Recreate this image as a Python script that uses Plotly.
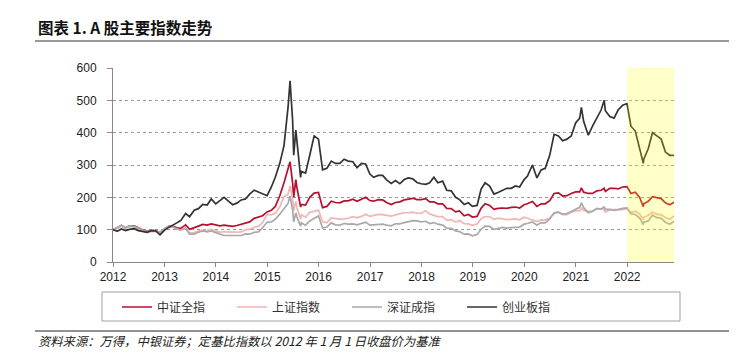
import pandas as pd
import plotly.graph_objects as go

# ---------------- data ----------------
dates = (
    ["2012-01-01"]
    + ["2012-01-31", "2012-02-29", "2012-03-30", "2012-04-27", "2012-05-31", "2012-06-29",
       "2012-07-31", "2012-08-31", "2012-09-28", "2012-10-31", "2012-11-30", "2012-12-31"]
    + ["2013-01-31", "2013-02-28", "2013-03-29", "2013-04-26", "2013-05-31", "2013-06-28",
       "2013-07-31", "2013-08-30", "2013-09-30", "2013-10-31", "2013-11-29", "2013-12-31"]
    + ["2014-01-30", "2014-02-28", "2014-03-31", "2014-04-30", "2014-05-30", "2014-06-30",
       "2014-07-31", "2014-08-29", "2014-09-30", "2014-10-31", "2014-11-28", "2014-12-31"]
    + ["2015-01-30", "2015-02-27", "2015-03-31", "2015-04-30", "2015-05-29", "2015-06-12",
       "2015-06-30", "2015-07-08", "2015-07-23", "2015-07-31", "2015-08-26", "2015-08-31",
       "2015-09-30", "2015-10-30", "2015-11-30", "2015-12-31"]
    + ["2016-01-29", "2016-02-29", "2016-03-31", "2016-04-29", "2016-05-31", "2016-06-30",
       "2016-07-29", "2016-08-31", "2016-09-30", "2016-10-31", "2016-11-30", "2016-12-30"]
    + ["2017-01-26", "2017-02-28", "2017-03-31", "2017-04-28", "2017-05-31", "2017-06-30",
       "2017-07-31", "2017-08-31", "2017-09-29", "2017-10-31", "2017-11-30", "2017-12-29"]
    + ["2018-01-31", "2018-02-28", "2018-03-30", "2018-04-27", "2018-05-31", "2018-06-29",
       "2018-07-31", "2018-08-31", "2018-09-28", "2018-10-31", "2018-11-30", "2018-12-28"]
    + ["2019-01-31", "2019-02-28", "2019-03-29", "2019-04-30", "2019-05-31", "2019-06-28",
       "2019-07-31", "2019-08-30", "2019-09-30", "2019-10-31", "2019-11-29", "2019-12-31"]
    + ["2020-01-23", "2020-02-28", "2020-03-31", "2020-04-30", "2020-05-29", "2020-06-30",
       "2020-07-31", "2020-08-31", "2020-09-30", "2020-10-30", "2020-11-30", "2020-12-31"]
    + ["2021-01-29", "2021-02-10", "2021-02-26", "2021-03-31", "2021-04-30", "2021-05-31",
       "2021-06-30", "2021-07-22", "2021-07-30", "2021-08-31", "2021-09-30", "2021-10-29",
       "2021-11-30", "2021-12-31"]
    + ["2022-01-28", "2022-02-28", "2022-03-31", "2022-04-26", "2022-04-29", "2022-05-31",
       "2022-06-30", "2022-07-29", "2022-08-31", "2022-09-30", "2022-10-31", "2022-11-30"]
)

csi_all = (  # 中证全指
    [100]
    + [105, 113, 105, 112, 112, 106, 99, 95, 98, 97, 91, 102]
    + [110, 111, 106, 104, 115, 101, 105, 111, 116, 114, 118, 114]
    + [112, 114, 112, 110, 113, 116, 121, 124, 135, 139, 143, 155]
    + [160, 172, 205, 245, 285, 310, 245, 200, 255, 230, 170, 178, 176, 200, 213, 215]
    + [168, 172, 188, 184, 183, 189, 189, 194, 188, 194, 200, 190]
    + [188, 193, 192, 184, 178, 184, 186, 192, 195, 197, 193, 193]
    + [196, 186, 186, 180, 180, 166, 165, 155, 158, 143, 147, 139]
    + [141, 166, 180, 175, 163, 166, 167, 166, 169, 170, 167, 177]
    + [180, 187, 172, 180, 180, 190, 212, 214, 204, 205, 212, 217]
    + [217, 229, 216, 212, 212, 220, 222, 228, 218, 228, 228, 226, 232, 233]
    + [212, 216, 200, 171, 180, 188, 202, 200, 196, 183, 177, 185]
)

sse = (  # 上证指数
    [100]
    + [104.2, 110.4, 102.9, 109.0, 107.9, 101.2, 95.6, 93.1, 94.8, 94.1, 90.0, 103.2]
    + [108.4, 107.6, 101.7, 99.0, 104.6, 90.0, 90.7, 95.4, 98.9, 97.3, 100.9, 96.2]
    + [92.4, 93.5, 92.4, 92.1, 92.7, 93.1, 100.1, 100.8, 107.5, 110.0, 122.0, 147.1]
    + [145.9, 150.5, 170.4, 202.0, 209.7, 235.0, 194.5, 159.4, 187.5, 166.6, 133.0, 145.8,
       138.8, 153.8, 156.7, 160.9]
    + [124.5, 122.2, 136.6, 133.6, 132.6, 133.2, 135.4, 140.3, 136.6, 141.0, 147.8, 141.1]
    + [143.6, 147.4, 146.5, 143.4, 141.7, 145.2, 148.8, 152.8, 152.3, 154.3, 150.8, 150.4]
    + [158.3, 148.2, 144.1, 140.1, 140.7, 129.4, 130.8, 123.9, 128.3, 118.3, 117.7, 113.4]
    + [117.5, 133.7, 140.5, 139.9, 131.8, 135.4, 133.4, 131.2, 132.1, 133.2, 130.6, 138.7]
    + [135.4, 130.9, 125.0, 130.0, 129.7, 135.7, 150.5, 154.4, 146.3, 146.6, 154.2, 157.9]
    + [158.4, 166.0, 159.5, 156.5, 156.7, 164.4, 163.3, 162.5, 154.5, 161.1, 162.2, 161.3,
       162.0, 165.5]
    + [152.8, 157.4, 147.9, 131.2, 138.5, 144.9, 154.5, 147.9, 145.6, 137.5, 131.5, 143.3]
)

szse = (  # 深证成指
    [100]
    + [106, 114, 106, 112, 110, 104, 98, 93, 99, 96, 92, 102]
    + [111, 109, 102, 99, 104, 86, 86, 92, 96, 93, 96, 91]
    + [86, 82, 82, 82, 82, 82, 87, 86, 92, 93, 106, 123]
    + [124, 132, 148, 166, 181, 204, 161, 124, 152, 139, 111, 121, 114, 127, 135, 142]
    + [105, 108, 121, 115, 114, 119, 117, 118, 115, 119, 123, 114]
    + [115, 115, 117, 114, 112, 118, 118, 122, 124, 128, 127, 124]
    + [126, 119, 122, 117, 114, 105, 104, 96, 94, 86, 87, 81]
    + [85, 101, 111, 110, 101, 104, 107, 105, 107, 107, 108, 117]
    + [119, 124, 114, 122, 121, 133, 152, 154, 148, 150, 156, 162]
    + [169, 183, 168, 152, 157, 166, 164, 170, 163, 163, 160, 162, 166, 167]
    + [149, 147, 136, 116, 123, 127, 145, 138, 135, 123, 117, 126]
)

chinext = (  # 创业板指
    [100]
    + [95, 102, 97, 101, 103, 97, 95, 92, 97, 96, 84, 98]
    + [107, 115, 121, 128, 150, 140, 160, 165, 178, 176, 195, 180]
    + [190, 200, 188, 177, 182, 192, 195, 210, 222, 216, 212, 205]
    + [232, 262, 305, 360, 480, 560, 440, 330, 408, 370, 262, 280, 275, 330, 390, 380]
    + [285, 290, 312, 305, 305, 318, 312, 310, 292, 305, 303, 272]
    + [262, 268, 268, 254, 243, 252, 242, 255, 260, 257, 246, 242]
    + [240, 245, 262, 245, 250, 222, 220, 200, 193, 178, 183, 172]
    + [175, 225, 245, 235, 210, 215, 222, 228, 228, 235, 232, 255]
    + [265, 300, 260, 285, 290, 330, 395, 390, 375, 380, 390, 430]
    + [445, 478, 435, 392, 420, 445, 470, 500, 468, 450, 445, 470, 485, 490]
    + [420, 405, 355, 305, 318, 350, 400, 390, 380, 340, 330, 330]
)

series_names = ["中证全指", "上证指数", "深证成指", "创业板指"]
year_ticks = ["2012", "2013", "2014", "2015", "2016", "2017",
              "2018", "2019", "2020", "2021", "2022"]
y_ticks = [0, 100, 200, 300, 400, 500, 600]
highlight_start = "2022-01-01"
x_end = "2022-11-30"

title_text = "图表 1. A 股主要指数走势"
source_text = "资料来源：万得，中银证券；定基比指数以 2012 年 1 月 1 日收盘价为基准"

# ---------------- figure ----------------
PAGE_W, PAGE_H = 737, 361
OFF = 8  # default page body margin
W, H = PAGE_W - OFF, PAGE_H - OFF
L, R, T, B = 113, 674, 68, 262  # plot area in window pixels


def px(x):
    return (x - L) / (R - L)


def py(y):
    return (B - y) / (B - T)


x = pd.to_datetime(dates)
colors = ["#B5102C", "#F2B5B3", "#A9A9A9", "#333333"]
values = [csi_all, sse, szse, chinext]

fig = go.Figure()
for name, vals, col in zip(series_names, values, colors):
    fig.add_trace(go.Scatter(x=x, y=vals, name=name, mode="lines",
                             line=dict(color=col, width=1.7)))

tick_font = dict(family="Liberation Sans, Arial, sans-serif", size=12, color="#222222")

fig.update_layout(
    width=W, height=H,
    margin=dict(l=L - OFF, r=PAGE_W - R, t=T - OFF, b=PAGE_H - B, autoexpand=False),
    paper_bgcolor="white", plot_bgcolor="white",
    showlegend=True,
    legend=dict(orientation="h", x=px(117), xanchor="left", y=py(307), yanchor="middle",
                font=dict(family="Noto Sans CJK SC", size=12, color="#333333"),
                entrywidth=70, entrywidthmode="pixels",
                bgcolor="rgba(0,0,0,0)", borderwidth=0, tracegroupgap=0,
                itemwidth=30),
    xaxis=dict(range=[pd.Timestamp("2012-01-01"), pd.Timestamp(x_end)],
               tickvals=[pd.Timestamp(y + "-01-01") for y in year_ticks],
               ticktext=year_ticks, ticks="outside", ticklen=4, tickcolor="#888888",
               showline=True, linecolor="#888888", linewidth=1, showgrid=False,
               tickfont=tick_font, zeroline=False),
    yaxis=dict(range=[0, 600], tickvals=y_ticks, ticks="outside", ticklen=5,
               tickcolor="#888888", showline=True, linecolor="#888888", linewidth=1,
               showgrid=True, gridcolor="#9a9a9a", griddash="dot", gridwidth=1,
               tickfont=tick_font, zeroline=False, ticklabelstandoff=8),
)

shapes = [
    # highlighted 2022 period
    dict(type="rect", xref="x", yref="y", x0=highlight_start, x1=x_end, y0=0, y1=600,
         fillcolor="rgba(255,255,0,0.22)", line=dict(width=0), layer="above"),
    # rule under title
    dict(type="line", xref="paper", yref="paper", x0=px(35), x1=px(737), y0=py(41), y1=py(41),
         line=dict(color="#999999", width=2)),
    # legend box
    dict(type="rect", xref="paper", yref="paper", x0=px(102), x1=px(680), y0=py(321), y1=py(292),
         line=dict(color="#A0A0A0", width=1), fillcolor="rgba(0,0,0,0)"),
    # rule above source
    dict(type="line", xref="paper", yref="paper", x0=px(35), x1=px(737), y0=py(331), y1=py(331),
         line=dict(color="#222222", width=1)),
]
fig.update_layout(shapes=shapes)

fig.add_annotation(text="<b>" + title_text + "</b>", xref="paper", yref="paper",
                   x=px(36), y=py(27), xanchor="left", yanchor="middle", showarrow=False,
                   font=dict(family="Noto Sans CJK SC", size=15.5, color="#111111"))
fig.add_annotation(text="<i>" + source_text + "</i>", xref="paper", yref="paper",
                   x=px(36), y=py(341), xanchor="left", yanchor="middle", showarrow=False,
                   font=dict(family="Noto Sans CJK SC", size=12.3, color="#222222"))

fig.write_html("out.html")
